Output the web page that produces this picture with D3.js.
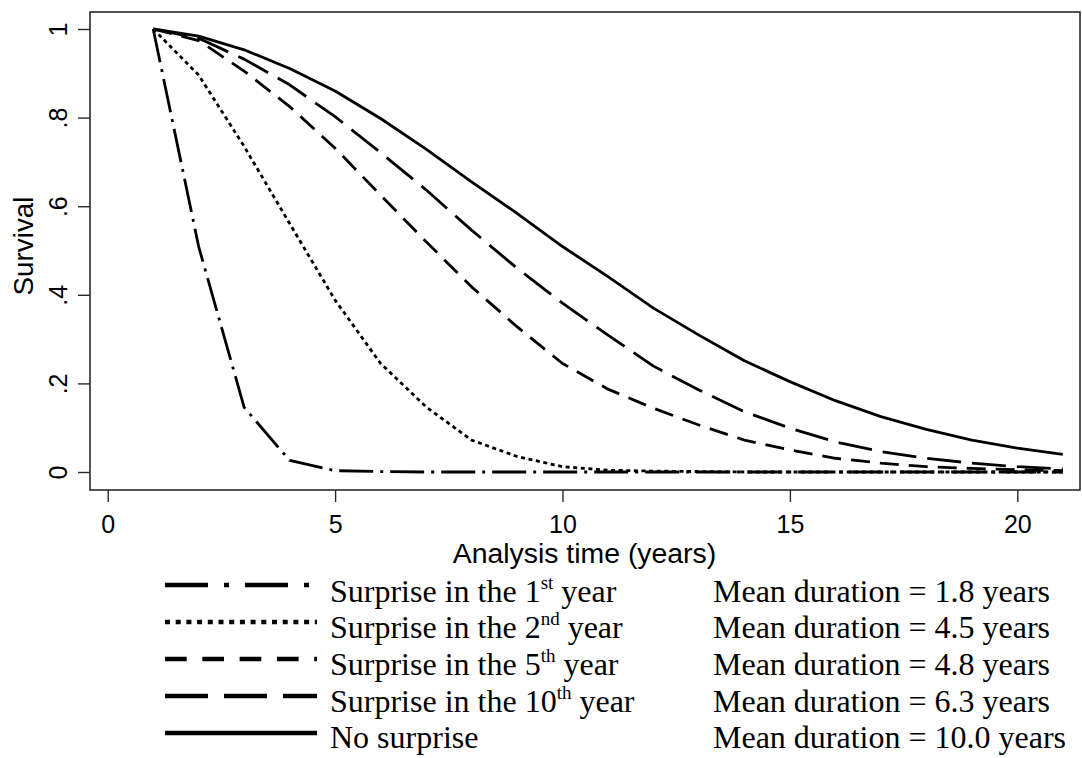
<!DOCTYPE html>
<html>
<head>
<meta charset="utf-8">
<script src="https://cdn.jsdelivr.net/npm/d3@7"></script>
<style>
  html, body { margin: 0; padding: 0; background: #fff; }
  svg { display: block; }
</style>
</head>
<body>
<svg id="chart" width="1082" height="758"></svg>
<script>
// Analysis time in years (x of every point)
const years = [1, 2, 3, 4, 5, 6, 7, 8, 9, 10, 11, 12, 13, 14, 15, 16, 17, 18, 19, 20, 21];

// Survival curves, one per scenario
const surprise1st  = [1.000, 0.509, 0.146, 0.026, 0.003, 0.001, 0, 0, 0, 0, 0, 0, 0, 0, 0, 0, 0, 0, 0, 0, 0];
const surprise2nd  = [1.000, 0.896, 0.735, 0.561, 0.388, 0.245, 0.147, 0.072, 0.035, 0.012, 0.004, 0.002, 0.001, 0, 0, 0, 0, 0, 0, 0, 0];
const surprise5th  = [1.000, 0.974, 0.905, 0.825, 0.731, 0.625, 0.520, 0.418, 0.328, 0.245, 0.187, 0.144, 0.106, 0.072, 0.050, 0.031, 0.020, 0.012, 0.008, 0.005, 0.003];
const surprise10th = [1.000, 0.979, 0.932, 0.874, 0.802, 0.721, 0.637, 0.546, 0.460, 0.381, 0.309, 0.239, 0.185, 0.136, 0.099, 0.068, 0.046, 0.031, 0.020, 0.012, 0.007];
const noSurprise   = [1.000, 0.984, 0.953, 0.911, 0.860, 0.798, 0.729, 0.655, 0.584, 0.509, 0.441, 0.370, 0.309, 0.251, 0.204, 0.161, 0.125, 0.096, 0.072, 0.054, 0.040];

// Axis ticks
const xTicks = [0, 5, 10, 15, 20];
const yTicks = [0, 0.2, 0.4, 0.6, 0.8, 1];
const yTickLabels = ["0", ".2", ".4", ".6", ".8", "1"];

// Legend text
const legendOrdinals = ["1", "2", "5", "10", null];
const legendSuffixes = ["st", "nd", "th", "th", null];
const meanDurations = ["1.8", "4.5", "4.8", "6.3", "10.0"];

const seriesValues = [surprise1st, surprise2nd, surprise5th, surprise10th, noSurprise];

// Line patterns: in the plot and in the (wider) legend keys
const plotDash   = ["34,7,3,7", "4,3.6", "19,10", "34,11", null];
const legendDash = ["43,16,5,16", "5,5.7", "21.7,15.6", "43,16", null];

const svg = d3.select("#chart");
const frame = { left: 90, right: 1080, top: 12, bottom: 490 };

const x = d3.scaleLinear().domain([0, 20]).range([107.7, 1017.3]);
const y = d3.scaleLinear().domain([0, 1]).range([472, 29]);

const axisColor = "#2a2a2a";
const sans = "'Liberation Sans', Arial, Helvetica, sans-serif";
const serif = "'Liberation Serif', 'Times New Roman', Times, serif";

// Plot frame
svg.append("rect")
  .attr("x", frame.left).attr("y", frame.top)
  .attr("width", frame.right - frame.left)
  .attr("height", frame.bottom - frame.top)
  .attr("fill", "none")
  .attr("stroke", axisColor)
  .attr("stroke-width", 1.6);

// X axis
const xAxis = svg.append("g")
  .attr("transform", `translate(0,${frame.bottom})`)
  .call(d3.axisBottom(x).tickValues(xTicks).tickSize(12).tickPadding(6).tickFormat(d3.format("d")));
xAxis.select(".domain").remove();
xAxis.selectAll(".tick line").attr("stroke", axisColor).attr("stroke-width", 1.4);
xAxis.selectAll(".tick text")
  .attr("font-family", sans).attr("font-size", 25).attr("fill", "#000")
  .attr("dy", null).attr("y", 43);

// Y axis with vertical tick labels
const yAxis = svg.append("g")
  .attr("transform", `translate(${frame.left},0)`)
  .call(d3.axisLeft(y).tickValues(yTicks).tickSize(12).tickFormat((d, i) => yTickLabels[i]));
yAxis.select(".domain").remove();
yAxis.selectAll(".tick line").attr("stroke", axisColor).attr("stroke-width", 1.4);
yAxis.selectAll(".tick text")
  .attr("font-family", sans).attr("font-size", 25).attr("fill", "#000")
  .attr("x", null).attr("dy", null)
  .attr("text-anchor", "middle")
  .attr("transform", "translate(-23,0) rotate(-90)");

// Axis titles
svg.append("text")
  .attr("x", (x(0) + x(20)) / 2 + 22).attr("y", 563)
  .attr("text-anchor", "middle")
  .attr("font-family", sans).attr("font-size", 28.4)
  .text("Analysis time (years)");

svg.append("text")
  .attr("transform", "translate(33,246) rotate(-90)")
  .attr("text-anchor", "middle")
  .attr("font-family", sans).attr("font-size", 27.8)
  .text("Survival");

// Survival curves
const line = d3.line()
  .x((d, i) => x(years[i]))
  .y(d => y(d));

svg.append("g").selectAll("path")
  .data(seriesValues)
  .join("path")
  .attr("d", line)
  .attr("fill", "none")
  .attr("stroke", "#000")
  .attr("stroke-width", 2.8)
  .attr("stroke-linejoin", "round")
  .attr("stroke-dasharray", (d, i) => plotDash[i]);

// Legend
const legend = svg.append("g");
const rowGap = 36.6;
const keyY = i => 585 + 37 * i;
const baseY = i => 601.7 + rowGap * i;

legend.selectAll("line")
  .data(seriesValues)
  .join("line")
  .attr("x1", 165).attr("x2", 317)
  .attr("y1", (d, i) => keyY(i)).attr("y2", (d, i) => keyY(i))
  .attr("stroke", "#000")
  .attr("stroke-width", 4.6)
  .attr("stroke-dasharray", (d, i) => legendDash[i]);

legendOrdinals.forEach((ord, i) => {
  const t = legend.append("text")
    .attr("x", 330).attr("y", baseY(i))
    .attr("font-family", serif).attr("font-size", 32)
    .attr("fill", "#000");
  if (ord === null) {
    t.text("No surprise");
  } else {
    t.append("tspan").text("Surprise in the " + ord);
    t.append("tspan").attr("font-size", 19).attr("dy", -13).text(legendSuffixes[i]);
    t.append("tspan").attr("dy", 13).text("\u00a0year");
  }
  legend.append("text")
    .attr("x", 713).attr("y", baseY(i))
    .attr("font-family", serif).attr("font-size", 32)
    .attr("fill", "#000")
    .text("Mean duration = " + meanDurations[i] + " years");
});
</script>
</body>
</html>
